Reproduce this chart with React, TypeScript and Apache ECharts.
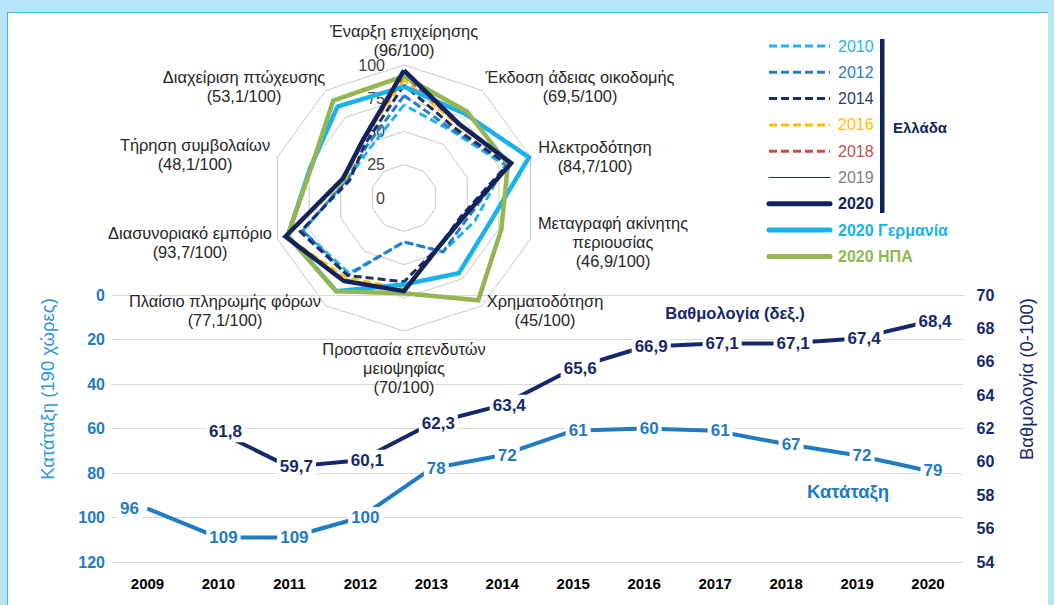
import React, { useEffect, useRef } from 'react';
import * as echarts from 'echarts';

// ---------- Radar data (clockwise from top) ----------
const radarLabels = [
  'Έναρξη επιχείρησης\n(96/100)',
  'Έκδοση άδειας οικοδομής\n(69,5/100)',
  'Ηλεκτροδότηση\n(84,7/100)',
  'Μεταγραφή ακίνητης\nπεριουσίας\n(46,9/100)',
  'Χρηματοδότηση\n(45/100)',
  'Προστασία επενδυτών\nμειοψηφίας\n(70/100)',
  'Πλαίσιο πληρωμής φόρων\n(77,1/100)',
  'Διασυνοριακό εμπόριο\n(93,7/100)',
  'Τήρηση συμβολαίων\n(48,1/100)',
  'Διαχείριση πτώχευσης\n(53,1/100)',
];
const greece2010 = [70, 62, 80, 56, 50, 33, 70, 80, 45, 45];
const greece2012 = [77, 63, 82, 50, 50, 33, 72, 80, 45, 48];
const greece2014 = [85, 65, 82, 45, 45, 63, 72, 82, 43, 50];
const greece2016 = [89, 68, 84, 47, 45, 68, 74, 93, 46, 53];
const greece2018 = [92, 69, 84.5, 47, 45, 70, 76, 93.7, 48, 53];
const greece2019 = [94, 69.5, 84.7, 46.9, 45, 70, 77, 93.7, 48.1, 53.1];
const greece2020 = [96, 69.5, 84.7, 46.9, 45, 70, 77.1, 93.7, 48.1, 53.1];
const germany2020 = [83.7, 78.2, 98.8, 66.6, 70, 65, 86.6, 91.8, 74.1, 85];
const usa2020 = [91.6, 80.4, 82.2, 76.9, 95, 71.6, 86.8, 92, 73.4, 90.5];
const radarTicksMax = 100;

// ---------- Line chart data ----------
const years = ['2009', '2010', '2011', '2012', '2013', '2014', '2015', '2016', '2017', '2018', '2019', '2020'];
const rankValues = [96, 109, 109, 100, 78, 72, 61, 60, 61, 67, 72, 79];
const scoreValues: (number | string)[] = ['-', 61.8, 59.7, 60.1, 62.3, 63.4, 65.6, 66.9, 67.1, 67.1, 67.4, 68.4];

const FONT = '"Liberation Sans", Arial, sans-serif';

const C2010 = '#22b2ee';
const C2012 = '#2b7cc6';
const C2014 = '#1c2f6c';
const C2016 = '#ffc000';
const C2018 = '#c0504d';
const C2019 = '#1c2f6c';
const C2020 = '#10235d';
const CGER = '#18b2ec';
const CUSA = '#93b653';
const CRANK = '#1f7bc4';
const CSCORE = '#14296b';

const radarSeriesDefs = [
  { name: '2010', data: greece2010, color: C2010, width: 3, type: [8, 4] },
  { name: '2012', data: greece2012, color: C2012, width: 3, type: [8, 4] },
  { name: '2014', data: greece2014, color: C2014, width: 3, type: [8, 4] },
  { name: '2016', data: greece2016, color: C2016, width: 2.5, type: [8, 4] },
  { name: '2018', data: greece2018, color: C2018, width: 2.5, type: [8, 4] },
  { name: '2019', data: greece2019, color: C2019, width: 1, type: 'solid' },
  { name: '2020 Γερμανία', data: germany2020, color: CGER, width: 4.5, type: 'solid' },
  { name: '2020 ΗΠΑ', data: usa2020, color: CUSA, width: 4.5, type: 'solid' },
  { name: '2020', data: greece2020, color: C2020, width: 4.5, type: 'solid' },
];

const legendItems = [
  { text: '2010', color: C2010, width: 3, dash: [8, 4], bold: false, textColor: '#29b3ec' },
  { text: '2012', color: C2012, width: 3, dash: [8, 4], bold: false, textColor: '#2e7cc4' },
  { text: '2014', color: C2014, width: 3, dash: [8, 4], bold: false, textColor: '#2a3d72' },
  { text: '2016', color: C2016, width: 3, dash: [8, 4], bold: false, textColor: '#ffc000' },
  { text: '2018', color: C2018, width: 3, dash: [8, 4], bold: false, textColor: '#c0504d' },
  { text: '2019', color: C2019, width: 1, dash: null, bold: false, textColor: '#7f7f7f' },
  { text: '2020', color: C2020, width: 5, dash: null, bold: true, textColor: C2020 },
  { text: '2020 Γερμανία', color: CGER, width: 5, dash: null, bold: true, textColor: CGER },
  { text: '2020 ΗΠΑ', color: CUSA, width: 5, dash: null, bold: true, textColor: CUSA },
];

// label placement (center x, center y) for radar indicator names
const radarLabelPos = [
  [404, 40], [580, 86], [595, 156], [613, 242], [545, 310],
  [404, 368], [225, 310], [190, 242], [195, 154], [244, 86],
];

// ECharts radar runs counter-clockwise; this order makes it clockwise
const order = [0, 9, 8, 7, 6, 5, 4, 3, 2, 1];
const reorder = (arr: any[]) => order.map((i) => arr[i]);

const fmt = (v: any) => String(v).replace('.', ',');

export default function App() {
  const ref = useRef<HTMLDivElement>(null);
  useEffect(() => {
    if (!ref.current) return;
    const chart = echarts.init(ref.current, undefined, { renderer: 'svg' });

    const graphic: any[] = [];
    radarLabels.forEach((t, i) => {
      graphic.push({
        type: 'text',
        x: radarLabelPos[i][0],
        y: radarLabelPos[i][1],
        z: 1,
        style: {
          text: t,
          fill: '#262626',
          font: `16.4px ${FONT}`,
          lineHeight: 19,
          align: 'center',
          verticalAlign: 'middle',
        },
      });
    });
    legendItems.forEach((it, i) => {
      const y = 46 + i * 26.3;
      graphic.push({
        type: 'line',
        shape: { x1: 769, y1: y, x2: 830, y2: y },
        style: {
          stroke: it.color,
          lineWidth: it.width,
          lineDash: it.dash || undefined,
          lineCap: it.dash ? 'butt' : 'round',
        },
      });
      graphic.push({
        type: 'text',
        x: 838,
        y,
        style: {
          text: it.text,
          fill: it.textColor,
          font: `${it.bold ? 'bold ' : ''}16px ${FONT}`,
          align: 'left',
          verticalAlign: 'middle',
        },
      });
    });
    graphic.push({
      type: 'rect',
      shape: { x: 880, y: 39, width: 4.5, height: 174 },
      style: { fill: C2020 },
    });
    graphic.push({
      type: 'text',
      x: 893,
      y: 127,
      style: { text: 'Ελλάδα', fill: C2020, font: `bold 15px ${FONT}`, align: 'left', verticalAlign: 'middle' },
    });
    graphic.push({
      type: 'text',
      x: 735,
      y: 313,
      style: { text: 'Βαθμολογία (δεξ.)', fill: CSCORE, font: `bold 16.5px ${FONT}`, align: 'center', verticalAlign: 'middle' },
    });
    graphic.push({
      type: 'text',
      x: 848,
      y: 491,
      style: { text: 'Κατάταξη', fill: CRANK, font: `bold 18.5px ${FONT}`, align: 'center', verticalAlign: 'middle' },
    });
    graphic.push({
      type: 'text',
      x: 47,
      y: 389,
      rotation: Math.PI / 2,
      style: { text: 'Κατάταξη (190 χώρες)', fill: '#2e98d8', font: `18.5px ${FONT}`, align: 'center', verticalAlign: 'middle' },
    });
    graphic.push({
      type: 'text',
      x: 1026,
      y: 379,
      rotation: Math.PI / 2,
      style: { text: 'Βαθμολογία (0-100)', fill: CSCORE, font: `18.5px ${FONT}`, align: 'center', verticalAlign: 'middle' },
    });

    const lineLabel = (color: string, dx: number) => ({
      show: true,
      position: 'inside',
      offset: [dx, 0],
      color,
      fontWeight: 'bold',
      fontSize: 17,
      backgroundColor: '#ffffff',
      padding: [2, 3],
      formatter: (p: any) => fmt(p.value),
    });

    const option: any = {
      animation: false,
      textStyle: { fontFamily: FONT },
      grid: { left: 112, right: 90.5, top: 295, bottom: 43 },
      xAxis: {
        type: 'category',
        data: years,
        boundaryGap: true,
        axisLine: { show: true, lineStyle: { color: '#d9d9d9' } },
        axisTick: { show: false },
        axisLabel: { color: '#000', fontWeight: 'bold', fontSize: 15, margin: 14 },
      },
      yAxis: [
        {
          type: 'value',
          inverse: true,
          min: 0,
          max: 120,
          interval: 20,
          axisLine: { show: false },
          axisTick: { show: false },
          axisLabel: { color: CRANK, fontWeight: 'bold', fontSize: 16, margin: 7 },
          splitLine: { lineStyle: { color: '#d9d9d9' } },
        },
        {
          type: 'value',
          min: 54,
          max: 70,
          interval: 2,
          position: 'right',
          axisLine: { show: false },
          axisTick: { show: false },
          axisLabel: { color: CSCORE, fontWeight: 'bold', fontSize: 16, margin: 13 },
          splitLine: { show: false },
        },
      ],
      radar: {
        center: [404, 198],
        radius: 133,
        startAngle: 90,
        splitNumber: 4,
        shape: 'polygon',
        axisName: { show: false },
        axisLine: { show: false },
        axisTick: { show: false },
        axisLabel: { show: false },
        splitArea: { show: false },
        splitLine: { lineStyle: { color: '#c9c9c9', width: 1 } },
        indicator: reorder(radarLabels).map((n, i) =>
          i === 0
            ? {
                name: n,
                min: 0,
                max: radarTicksMax,
                axisLabel: { show: true, color: '#404040', fontSize: 16, margin: 19, showMinLabel: true },
              }
            : { name: n, min: 0, max: radarTicksMax }
        ),
      },
      graphic,
      series: [
        ...radarSeriesDefs.map((s) => ({
          type: 'radar',
          name: s.name,
          symbol: 'none',
          z: 3,
          lineStyle: { color: s.color, width: s.width, type: s.type, join: 'miter' },
          itemStyle: { color: s.color },
          data: [{ value: reorder(s.data), name: s.name }],
        })),
        {
          type: 'line',
          name: 'Κατάταξη',
          yAxisIndex: 0,
          symbol: 'circle',
          symbolSize: 1,
          showSymbol: true,
          z: 4,
          lineStyle: { color: CRANK, width: 4 },
          itemStyle: { color: CRANK },
          data: rankValues.map((v, i) => (i === 0 ? { value: v, label: { offset: [-18, 0] } } : v)),
          label: lineLabel(CRANK, 5),
        },
        {
          type: 'line',
          name: 'Βαθμολογία',
          yAxisIndex: 1,
          symbol: 'circle',
          symbolSize: 1,
          showSymbol: true,
          z: 4,
          lineStyle: { color: CSCORE, width: 4 },
          itemStyle: { color: CSCORE },
          data: scoreValues,
          label: lineLabel(CSCORE, 7),
        },
      ],
    };
    chart.setOption(option);
    return () => chart.dispose();
  }, []);

  return (
    <div style={{ position: 'fixed', left: 0, top: 0, width: 1054, height: 605, background: '#b9e5f8', overflow: 'hidden' }}>
      <div
        style={{
          position: 'absolute',
          left: 7,
          top: 12,
          width: 1040,
          height: 600,
          background: '#ffffff',
          borderLeft: '1px solid #3db4ea',
          borderTop: '1px solid #3db4ea',
        }}
      />
      <div ref={ref} style={{ position: 'absolute', left: 0, top: 0, width: 1054, height: 605 }} />
    </div>
  );
}
